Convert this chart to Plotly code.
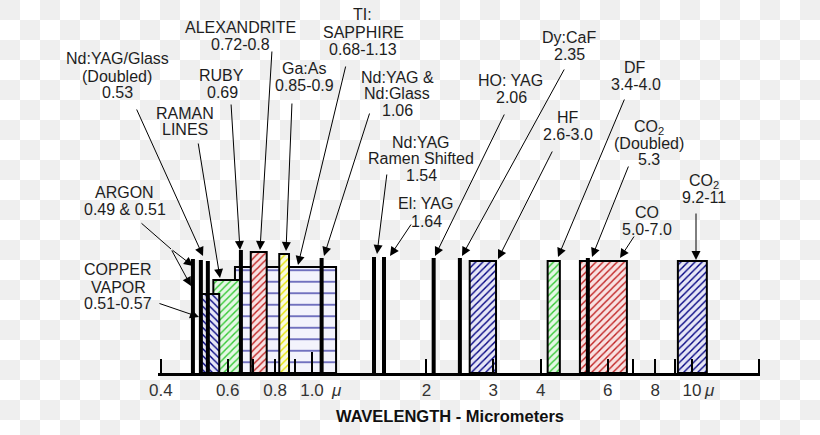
import base64
import numpy as np
import plotly.graph_objects as go

# ---------------- data (wavelengths in micrometres, as drawn) ----------------
line_names = ["Argon", "Argon", "Nd:YAG/Glass (Doubled)", "Ruby", "Nd:YAG & Nd:Glass",
              "Nd:YAG Raman Shifted", "El:YAG", "HO:YAG", "Dy:CaF", "CO2 (Doubled)"]
line_wl = [0.486, 0.51, 0.532, 0.65, 1.06, 1.456, 1.547, 2.09, 2.45, 5.32]

band_names = ["Ti:Sapphire", "Raman Lines", "Copper Vapor", "Alexandrite", "Ga:As",
              "HF", "DF", "CO", "CO2"]
band_lo = [0.627, 0.55, 0.51, 0.69, 0.82, 2.6, 4.17, 5.07, 9.18]
band_hi = [1.157, 0.65, 0.57, 0.76, 0.87, 3.05, 4.49, 6.74, 10.94]

tick_vals = [0.4, 0.6, 0.8, 1, 2, 3, 4, 6, 8, 10]
tick_text = ["0.4", "0.6", "0.8", "1.0", "2", "3", "4", "6", "8", "10"]
minor_vals = [0.7, 0.9, 7, 9, 15]
long_ticks = [1, 10]

# ---------------- layout / style ----------------
W, H = 820, 435
L_PX, R_PX, AXIS_Y = 158, 760, 373
PX0, PX_DEC = 312, 380          # pixel of 1 um, pixels per decade


def lg(px):
    return (px - PX0) / PX_DEC


def paper_x(px):
    return (px - L_PX) / (R_PX - L_PX)


def paper_y(py):
    return (AXIS_Y - py) / AXIS_Y


line_tops = [259, 260, 261, 250, 258, 257, 257, 258, 258, 258]
band_tops = [267, 280, 294, 252, 254, 261, 261, 261, 261]
BLUE = dict(fg="#000080", bg="#e6e6f6")
GREEN = dict(fg="#33c833", bg="#e4f7e4")
RED = dict(fg="#c02020", bg="#f8e2e2")
YEL = dict(fg="#e4e400", bg="#f9f9e0")
band_styles = [
    dict(shape="-", fg="#00008b", bg="#f3f3fc", size=11.5, solidity=0.09),
    dict(shape="/", size=5, solidity=0.28, **GREEN),
    dict(shape="\\", size=5, solidity=0.28, **BLUE),
    dict(shape="/", size=5, solidity=0.28, **RED),
    dict(shape="/", size=5, solidity=0.28, **YEL),
    dict(shape="/", size=5, solidity=0.28, **BLUE),
    dict(shape="/", size=5, solidity=0.28, **GREEN),
    dict(shape="/", size=5, solidity=0.28, **RED),
    dict(shape="/", size=5, solidity=0.28, **BLUE),
]

texts = [
    ("Nd:YAG/Glass", 117, 58), ("(Doubled)", 117, 76), ("0.53", 117, 92),
    ("RAMAN", 185, 113), ("LINES", 185, 129),
    ("RUBY", 221, 75), ("0.69", 222, 92),
    ("ALEXANDRITE", 240, 27), ("0.72-0.8", 240, 44),
    ("Ga:As", 304, 68), ("0.85-0.9", 304, 85),
    ("TI:", 362, 14), ("SAPPHIRE", 363, 32), ("0.68-1.13", 363, 49),
    ("Nd:YAG &amp;", 397, 77), ("Nd:Glass", 397, 93), ("1.06", 397, 110),
    ("Nd:YAG", 421, 142), ("Ramen Shifted", 421, 158), ("1.54", 421, 175),
    ("El: YAG", 425, 203), ("1.64", 426, 221),
    ("HO: YAG", 510, 80), ("2.06", 511, 97),
    ("Dy:CaF", 569, 37), ("2.35", 569, 54),
    ("DF", 635, 67), ("3.4-4.0", 636, 84),
    ("HF", 568, 117), ("2.6-3.0", 568, 134),
    ("CO<sub>2</sub>", 649, 127), ("(Doubled)", 649, 143), ("5.3", 649, 159),
    ("CO", 647, 212), ("5.0-7.0", 647, 229),
    ("CO<sub>2</sub>", 704, 181), ("9.2-11", 704, 197),
    ("ARGON", 124, 192), ("0.49 &amp; 0.51", 125, 209),
    ("COPPER", 118, 269), ("VAPOR", 118, 287), ("0.51-0.57", 118, 303),
]

arrows = [
    (136, 108, 203, 256, True),
    (198, 142, 220, 278, True),
    (231, 103, 240, 250, True),
    (272, 50, 260, 250, True),
    (292, 102, 286, 251, True),
    (346, 65, 298, 265, True),
    (370, 112, 324, 256, True),
    (387, 173, 377, 254, True),
    (412, 223, 390, 256, True),
    (505, 113, 435, 256, True),
    (565, 68, 462, 256, True),
    (553, 150, 498, 259, True),
    (625, 98, 558, 257, True),
    (629, 165, 592, 257, True),
    (635, 235, 620, 258, True),
    (696, 212, 696, 260, True),
    (140, 222, 171, 249, False),
    (171, 249, 193, 266, True),
    (171, 249, 191, 286, True),
    (158, 303, 199, 317, True),
]

FONT = "Arial, Liberation Sans, sans-serif"
TXT = "#1e1e1e"

fig = go.Figure()

# bands (hatched boxes)
for lo, hi, top, st, name in zip(band_lo, band_hi, band_tops, band_styles, band_names):
    fig.add_trace(go.Scatter(
        x=[lo, lo, hi, hi, lo], y=[AXIS_Y, top, top, AXIS_Y, AXIS_Y],
        mode="lines", fill="toself", fillcolor=st["bg"], name=name,
        line=dict(color="black", width=2),
        fillpattern=dict(shape=st["shape"], fgcolor=st["fg"], bgcolor=st["bg"],
                         size=st["size"], solidity=st["solidity"], fillmode="replace"),
        hoverinfo="skip", showlegend=False))

# single-wavelength laser lines
lx, ly = [], []
for v, top in zip(line_wl, line_tops):
    lx += [v, v, None]
    ly += [AXIS_Y, top, None]
fig.add_trace(go.Scatter(x=lx, y=ly, mode="lines", line=dict(color="black", width=4),
                         hoverinfo="skip", showlegend=False))

ann = []
for t, px, py in texts:
    ann.append(dict(text=t, x=paper_x(px), y=py, xref="paper", yref="y",
                    showarrow=False, xanchor="center", yanchor="middle",
                    font=dict(family=FONT, size=16, color=TXT)))
for tx, ty, hx, hy, head in arrows:
    ann.append(dict(text="", x=paper_x(hx), y=hy, xref="paper", yref="y",
                    ax=tx - hx, ay=ty - hy, axref="pixel", ayref="pixel",
                    showarrow=True, arrowhead=2 if head else 0, arrowsize=1.8,
                    arrowwidth=1, arrowcolor="black", standoff=0))
for px in (336, 709):
    ann.append(dict(text="<i>\u03bc</i>", x=paper_x(px), y=paper_y(390),
                    xref="paper", yref="paper", showarrow=False,
                    xanchor="center", yanchor="middle",
                    font=dict(family=FONT, size=17, color="#333")))
ann.append(dict(text="<b>WAVELENGTH - Micrometers</b>", x=paper_x(450), y=paper_y(416),
                xref="paper", yref="paper", showarrow=False,
                xanchor="center", yanchor="middle",
                font=dict(family=FONT, size=16.5, color="#111")))

shapes = [dict(type="line", xref="x", yref="y", x0=np.log10(v), x1=np.log10(v),
               y0=AXIS_Y, y1=AXIS_Y - 21, line=dict(color="black", width=2))
          for v in long_ticks]

svg = ('<svg xmlns="http://www.w3.org/2000/svg" width="820" height="435">'
       '<defs><pattern id="c" width="40" height="40" patternUnits="userSpaceOnUse">'
       '<rect width="40" height="40" fill="#ffffff"/>'
       '<rect width="20" height="20" fill="#efefef"/>'
       '<rect x="20" y="20" width="20" height="20" fill="#efefef"/>'
       '</pattern></defs><rect width="820" height="435" fill="url(#c)"/></svg>')
src = "data:image/svg+xml;base64," + base64.b64encode(svg.encode()).decode()
pw = R_PX - L_PX
images = [dict(source=src, xref="paper", yref="paper", x=-L_PX / pw, y=1.0,
               sizex=W / pw, sizey=H / AXIS_Y, xanchor="left", yanchor="top",
               sizing="stretch", layer="below")]

fig.update_layout(
    width=W, height=H, margin=dict(l=L_PX, r=W - R_PX, t=0, b=H - AXIS_Y),
    paper_bgcolor="white", plot_bgcolor="rgba(0,0,0,0)",
    annotations=ann, shapes=shapes, images=images, hovermode=False,
    xaxis=dict(type="log", range=[lg(L_PX), lg(R_PX)], showgrid=False, zeroline=False,
               showline=True, linecolor="black", linewidth=3,
               ticks="inside", ticklen=14, tickwidth=2, tickcolor="black",
               tickmode="array", tickvals=tick_vals, ticktext=tick_text,
               tickfont=dict(family=FONT, size=17, color="#333"),
               minor=dict(tickmode="array", tickvals=minor_vals, ticks="inside",
                          ticklen=14, tickwidth=2, tickcolor="black", showgrid=False)),
    yaxis=dict(range=[AXIS_Y, 0], visible=False, showgrid=False, zeroline=False),
)

fig.write_html("out.html")
